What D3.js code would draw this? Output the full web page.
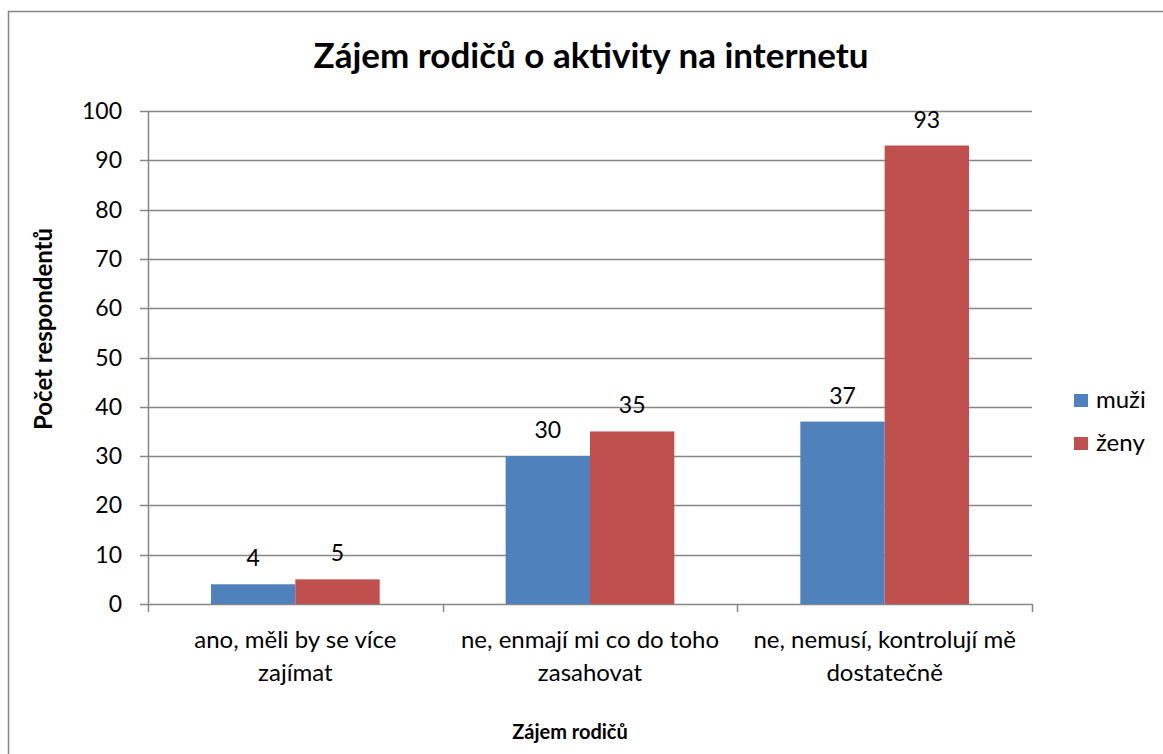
<!DOCTYPE html>
<html>
<head>
<meta charset="utf-8">
<script src="https://cdn.jsdelivr.net/npm/d3@7"></script>
<style>
body { margin: 0; background: #fff; }
text { font-family: Lato, "Open Sans", sans-serif; fill: #000; }
</style>
</head>
<body>
<script>
//chart data
var categories = [
    ["ano, měli by se více", "zajímat"],
    ["ne, enmají mi co do toho", "zasahovat"],
    ["ne, nemusí, kontrolují mě", "dostatečně"]
];
var seriesNames = ["muži", "ženy"];
var muzi = [4, 30, 37];
var zeny = [5, 35, 93];
var yTicks = [0, 10, 20, 30, 40, 50, 60, 70, 80, 90, 100];
var colors = ["#4F81BD", "#C0504D"];

var w = 1163, h = 754;

var svg = d3.select("body")
    .append("svg")
    .attr("width", w)
    .attr("height", h);

//outer chart border
svg.append("rect")
    .attr("x", 8.5)
    .attr("y", 11.5)
    .attr("width", 1180)
    .attr("height", 780)
    .style("fill", "#fff")
    .style("stroke", "#868686")
    .style("stroke-width", 1.5);

//plot area
var plotLeft = 148, plotRight = 1032, plotTop = 111, plotBottom = 604;

var x = d3.scaleBand()
    .domain(d3.range(categories.length))
    .range([plotLeft, plotRight]);

var x1 = d3.scaleBand()
    .domain(d3.range(seriesNames.length))
    .range([63, x.bandwidth() - 63]);

var y = d3.scaleLinear()
    .domain([0, 100])
    .range([plotBottom, plotTop]);

//gridlines
svg.selectAll(".grid")
    .data(yTicks)
    .enter()
    .append("line")
    .attr("class", "grid")
    .attr("x1", plotLeft - 8)
    .attr("x2", plotRight)
    .attr("y1", function(d){ return Math.round(y(d)) + 0.5; })
    .attr("y2", function(d){ return Math.round(y(d)) + 0.5; })
    .style("stroke", "#868686")
    .style("stroke-width", 1.5);

//y axis line
svg.append("line")
    .attr("x1", plotLeft + 0.5).attr("x2", plotLeft + 0.5)
    .attr("y1", plotTop).attr("y2", plotBottom)
    .style("stroke", "#868686")
    .style("stroke-width", 1.5);

//x axis ticks between categories
var xTickPos = d3.range(categories.length + 1).map(function(i){
    return plotLeft + i * x.bandwidth();
});
svg.selectAll(".xtick")
    .data(xTickPos)
    .enter()
    .append("line")
    .attr("x1", function(d){ return Math.round(d) + 0.5; })
    .attr("x2", function(d){ return Math.round(d) + 0.5; })
    .attr("y1", plotBottom)
    .attr("y2", plotBottom + 8)
    .style("stroke", "#868686")
    .style("stroke-width", 1.5);

//y tick labels
svg.selectAll(".ylab")
    .data(yTicks)
    .enter()
    .append("text")
    .attr("x", plotLeft - 26)
    .attr("y", function(d){ return y(d) + 8; })
    .attr("text-anchor", "end")
    .style("font-size", "23px")
    .text(function(d){ return d; });

//bars
var series = [muzi, zeny];
series.forEach(function(vals, s){
    svg.selectAll(".bar" + s)
        .data(vals)
        .enter()
        .append("rect")
        .attr("x", function(d, i){ return x(i) + x1(s); })
        .attr("y", function(d){ return y(d); })
        .attr("width", x1.bandwidth())
        .attr("height", function(d){ return plotBottom - y(d); })
        .style("fill", colors[s]);

    svg.selectAll(".val" + s)
        .data(vals)
        .enter()
        .append("text")
        .attr("x", function(d, i){ return x(i) + x1(s) + x1.bandwidth() / 2; })
        .attr("y", function(d){ return y(d) - 18; })
        .attr("text-anchor", "middle")
        .style("font-size", "23px")
        .text(function(d){ return d; });
});

//category labels
var catLabels = svg.selectAll(".cat")
    .data(categories)
    .enter()
    .append("text")
    .attr("text-anchor", "middle")
    .style("font-size", "24px");

catLabels.selectAll("tspan")
    .data(function(d, i){ return d.map(function(t){ return {t: t, i: i}; }); })
    .enter()
    .append("tspan")
    .attr("x", function(d){ return x(d.i) + x.bandwidth() / 2; })
    .attr("y", function(d, j){ return 648 + j * 33; })
    .text(function(d){ return d.t; });

//title
svg.append("text")
    .attr("x", 591)
    .attr("y", 68)
    .attr("text-anchor", "middle")
    .style("font-size", "35px")
    .style("font-weight", "bold")
    .text("Zájem rodičů o aktivity na internetu");

//axis titles
svg.append("text")
    .attr("x", 570)
    .attr("y", 739)
    .attr("text-anchor", "middle")
    .style("font-size", "20px")
    .style("font-weight", "bold")
    .text("Zájem rodičů");

svg.append("text")
    .attr("transform", "translate(52,329) rotate(-90)")
    .attr("text-anchor", "middle")
    .style("font-size", "24px")
    .style("font-weight", "bold")
    .text("Počet respondentů");

//legend
var legend = svg.selectAll(".legend")
    .data(seriesNames)
    .enter()
    .append("g")
    .attr("transform", function(d, i){ return "translate(1074," + (394 + i * 43) + ")"; });

legend.append("rect")
    .attr("width", 14)
    .attr("height", 13)
    .style("fill", function(d, i){ return colors[i]; });

legend.append("text")
    .attr("x", 22)
    .attr("y", 14)
    .style("font-size", "24px")
    .text(function(d){ return d; });
</script>
</body>
</html>
